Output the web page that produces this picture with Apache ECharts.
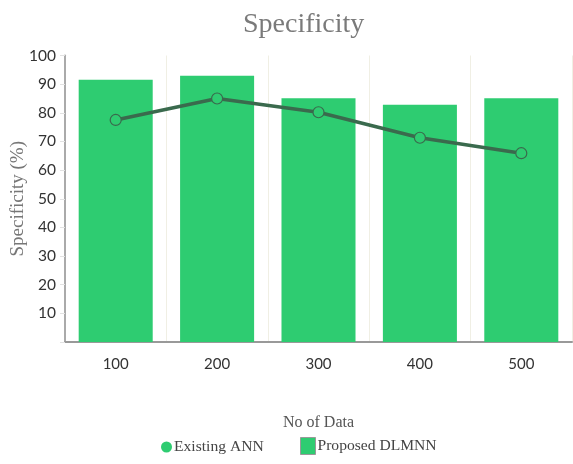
<!DOCTYPE html>
<html>
<head>
<meta charset="utf-8">
<script src="https://cdn.jsdelivr.net/npm/echarts@6/dist/echarts.min.js"></script>
<style>
  html, body { margin: 0; padding: 0; background: #fff; }
  #chart { width: 573px; height: 464px; }
</style>
</head>
<body>
<div id="chart"></div>
<script>
// Number of data points along the x axis
const categories = ['100', '200', '300', '400', '500'];
// Specificity (%) for each method
const existingANN = [77.5, 85.0, 80.2, 71.3, 65.9];
const proposedDLMNN = [91.5, 92.9, 85.1, 82.8, 85.1];

const serif = '"Liberation Serif", "Times New Roman", serif';
const sans = 'Lato, "Open Sans", sans-serif';

const chart = echarts.init(document.getElementById('chart'));
chart.setOption({
  animation: false,
  backgroundColor: '#fff',
  title: {
    text: 'Specificity',
    left: 238,
    top: 6,
    textStyle: { fontFamily: serif, fontSize: 28, fontWeight: 'normal', color: '#7a7a7a' }
  },
  legend: [
    {
      data: [{ name: 'Existing ANN', icon: 'circle', itemStyle: { borderWidth: 0 } }],
      left: 156, top: 434,
      itemWidth: 11, itemHeight: 11, itemGap: 3,
      textStyle: { fontFamily: serif, fontSize: 15.6, color: '#444', padding: [0, 0, 0, -3] }
    },
    {
      data: [{ name: 'Proposed DLMNN', icon: 'rect', itemStyle: { borderColor: '#999', borderWidth: 1 } }],
      left: 295, top: 432,
      itemWidth: 15, itemHeight: 17, itemGap: 4,
      textStyle: { fontFamily: serif, fontSize: 15.6, color: '#444', padding: [0, 0, 0, -3] }
    }
  ],
  grid: { left: 65, right: 1, top: 55.5, bottom: 122, outerBoundsMode: 'none', containLabel: false },
  xAxis: {
    type: 'category',
    data: categories,
    name: 'No of Data',
    nameLocation: 'middle',
    nameGap: 73,
    nameTextStyle: { fontFamily: serif, fontSize: 16, color: '#555' },
    axisLine: { lineStyle: { color: '#999', width: 2 } },
    axisTick: { show: false },
    axisLabel: { fontFamily: sans, fontSize: 15, color: '#333', margin: 15 },
    splitLine: { show: true, lineStyle: { color: '#f0efe4', width: 1 } }
  },
  yAxis: {
    type: 'value',
    min: 0, max: 100, interval: 10,
    name: 'Specificity (%)',
    nameLocation: 'middle',
    nameGap: 37,
    nameMoveOverlap: false,
    nameTextStyle: { fontFamily: serif, fontSize: 19, fontWeight: 'normal', color: '#777' },
    axisLine: { show: true, lineStyle: { color: '#aaa', width: 2 } },
    axisTick: { show: true, length: 5, lineStyle: { color: '#e2e2e2' } },
    axisLabel: {
      fontFamily: sans, fontSize: 15.5, color: '#333', margin: 9,
      formatter: v => (v === 0 ? '' : String(v))
    },
    splitLine: { show: false }
  },
  series: [
    {
      name: 'Proposed DLMNN',
      type: 'bar',
      data: proposedDLMNN,
      barWidth: '73%',
      itemStyle: { color: '#2ecc71' },
      z: 1
    },
    {
      name: 'Existing ANN',
      type: 'line',
      data: existingANN,
      symbol: 'circle',
      symbolSize: 11,
      lineStyle: { color: '#3a6a4d', width: 3.5 },
      itemStyle: { color: '#2ecc71', borderColor: '#3a6a4d', borderWidth: 1.2 },
      z: 3
    }
  ]
});
</script>
</body>
</html>
